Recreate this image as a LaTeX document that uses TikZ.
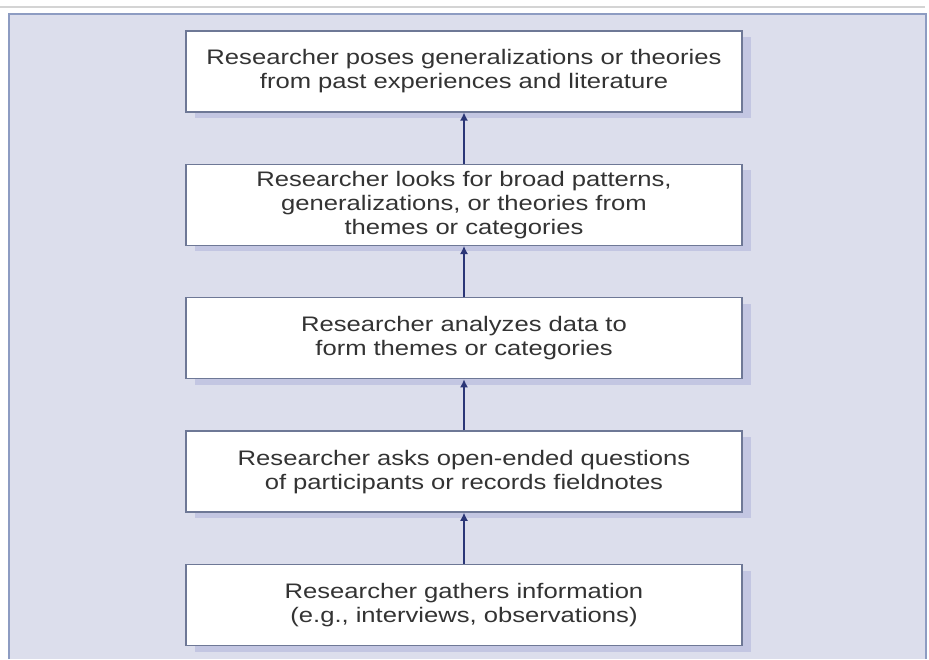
\documentclass[tikz,border=0pt]{standalone}
\usepackage{fontspec}
\newfontfamily\boxfont[FakeStretch=1.22]{Liberation Sans}
\usetikzlibrary{positioning,arrows.meta,shadows}
\definecolor{panel}{HTML}{DCDEEC}
\definecolor{panelline}{HTML}{8D9CC2}
\definecolor{boxline}{HTML}{6E7896}
\definecolor{shade}{HTML}{C3C6E2}
\definecolor{navy}{HTML}{2B3677}
\definecolor{ink}{HTML}{333333}
\definecolor{rulegray}{HTML}{D4D4D4}

\begin{document}
\begin{tikzpicture}[x=1pt,y=-1pt,node distance=51pt,
  stage/.style={draw=boxline,line width=1.4pt,fill=white,minimum width=556pt,minimum height=81pt,
    text width=540pt,align=center,inner sep=0pt,text=ink,font=\boxfont\fontsize{21}{24}\selectfont,
    drop shadow={shadow xshift=9pt,shadow yshift=-6pt,fill=shade,opacity=1}},
  up/.style={-{Latex[length=8pt,width=8pt]},navy,line width=1.3pt}]
  \useasboundingbox (0,0) rectangle (929,659);
  \draw[rulegray,line width=1.2pt] (0,7) -- (925,7);
  \fill[panel] (9,14) rectangle (926,659);
  \draw[panelline,line width=1.2pt] (9,659) -- (9,14) -- (926,14) -- (926,659);

  \node[stage] (gather) at (464,605) {Researcher gathers information\\(e.g., interviews, observations)};
  \node[stage,above=of gather] (ask) {Researcher asks open-ended questions\\of participants or records fieldnotes};
  \node[stage,above=of ask] (analyze) {Researcher analyzes data to\\form themes or categories};
  \node[stage,above=of analyze] (patterns) {Researcher looks for broad patterns,\\generalizations, or theories from\\themes or categories};
  \node[stage,above=of patterns] (theory) {Researcher poses generalizations or theories\\from past experiences and literature};

  \draw[up] (gather) -- (ask);
  \draw[up] (ask) -- (analyze);
  \draw[up] (analyze) -- (patterns);
  \draw[up] (patterns) -- (theory);
\end{tikzpicture}
\end{document}
